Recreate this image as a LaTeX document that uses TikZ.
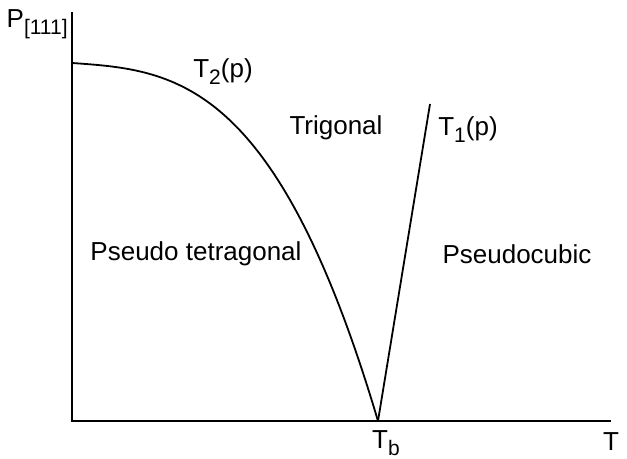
\documentclass[tikz,border=0pt]{standalone}
\usepackage{fontspec}
\setmainfont{Liberation Sans}
\usepackage{tikz}
\usetikzlibrary{positioning,calc}
\newcommand{\lsub}[1]{\raisebox{-0.5ex}{\fontsize{10.5}{10.5}\selectfont #1}}

\begin{document}
\begin{tikzpicture}[x=0.5pt,y=-0.5pt,font=\fontsize{13}{15}\selectfont,
  phase/.style={line width=0.9pt},
  axis/.style={line width=0.7pt}]
  \useasboundingbox (0,0) rectangle (627,459);
  % axes
  \coordinate (o) at (72,421);
  \coordinate (ytop) at (72,12);
  \coordinate (xend) at (611,421);
  \coordinate (p0) at (72,63);
  \coordinate (tb) at (378,421);
  \coordinate (t1top) at (430,104);
  \draw[axis] (ytop) -- (o) -- (xend);
  % phase boundaries
  \draw[phase] (p0) -- plot[domain=0.01:1,samples=80]
    ({72+306*\x},{63+358*(0.06*\x+0.94*pow(\x,3))});
  \draw[phase] (tb) -- (t1top);
  % labels
  \node[anchor=east,inner sep=0pt] (pax) at (68,24) {P\lsub{[111]}};
  \node (tax) at (611,442) {T};
  \node (tblab) at (386,443) {T\lsub{b}};
  \node (t2lab) at (223,72) {T\lsub{2}(p)};
  \node (t1lab) at (468,130) {T\lsub{1}(p)};
  \node (trig) at (336,128) {Trigonal};
  \node (ptet) at (196,254) {Pseudo tetragonal};
  \node (pcub) at (517,254) {Pseudocubic};
\end{tikzpicture}
\end{document}
